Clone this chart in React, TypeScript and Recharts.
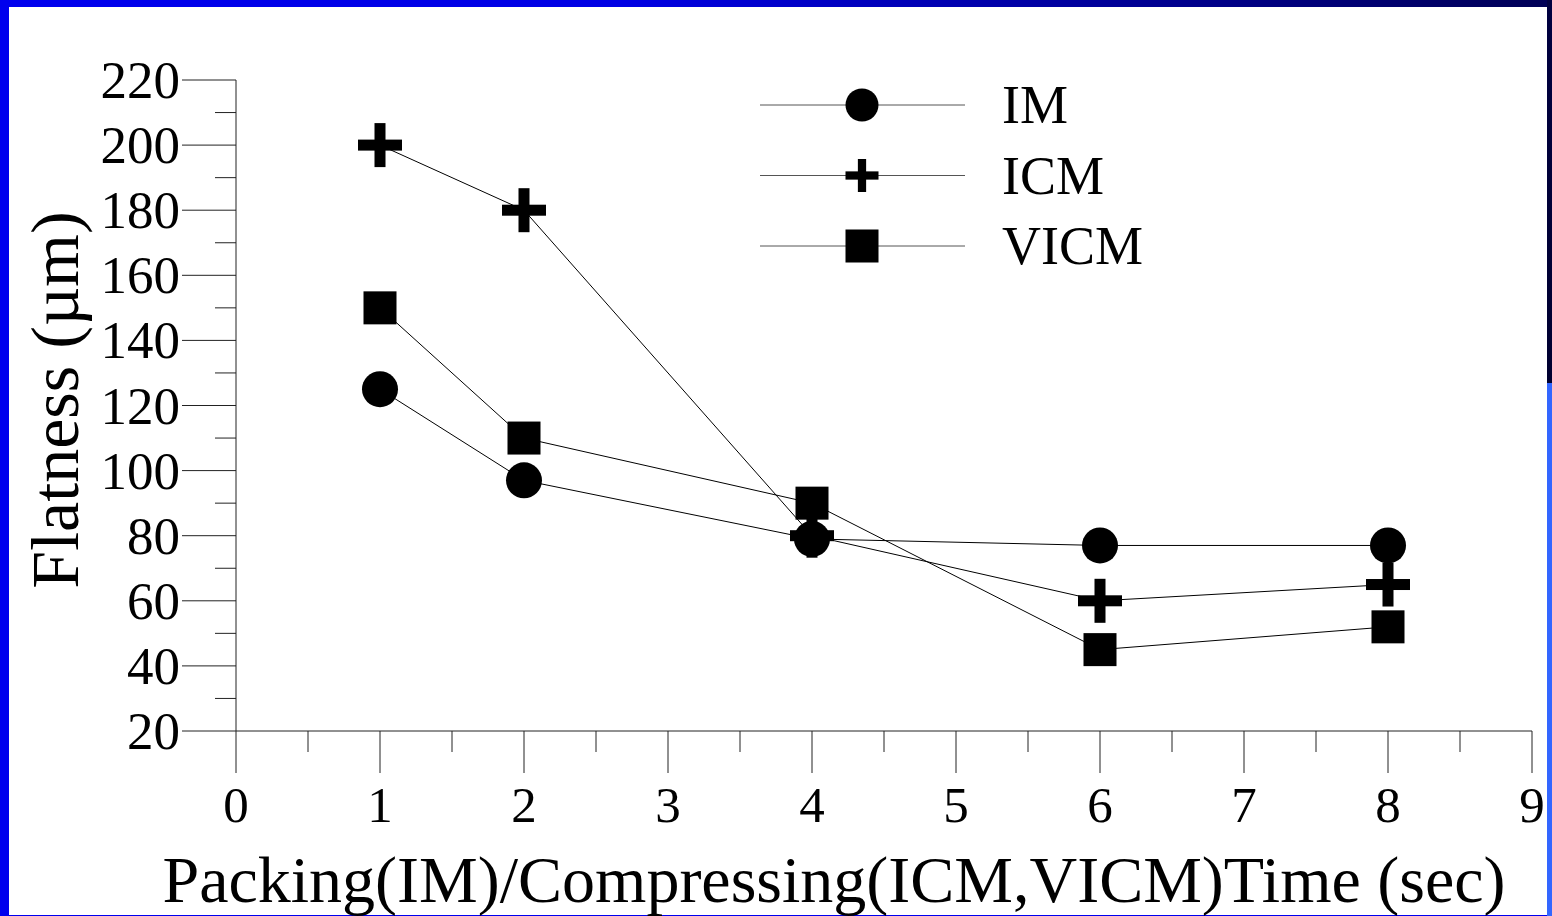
import { Legend, Line, LineChart, XAxis, YAxis } from 'recharts';

const times = [1, 2, 4, 6, 8];
const imValues = [125, 97, 79, 77, 77];
const icmValues = [200, 180, 80, 60, 65];
const vicmValues = [150, 110, 90, 45, 52];

const xTicks = [0, 0.5, 1, 1.5, 2, 2.5, 3, 3.5, 4, 4.5, 5, 5.5, 6, 6.5, 7, 7.5, 8, 8.5, 9];
const yTicks = [20, 30, 40, 50, 60, 70, 80, 90, 100, 110, 120, 130, 140, 150, 160, 170, 180, 190, 200, 210, 220];

const xTitle = 'Packing(IM)/Compressing(ICM,VICM)Time (sec)';
const yTitle = 'Flatness (µm)';

type Shape = 'circle' | 'plus' | 'square';

const series: { key: string; name: string; shape: Shape }[] = [
  { key: 'im', name: 'IM', shape: 'circle' },
  { key: 'icm', name: 'ICM', shape: 'plus' },
  { key: 'vicm', name: 'VICM', shape: 'square' },
];

const data = times.map((t, i) => ({
  time: t,
  im: imValues[i],
  icm: icmValues[i],
  vicm: vicmValues[i],
}));

const FONT = "'Liberation Serif', 'Times New Roman', serif";
const INK = '#000';

function Marker({ cx, cy, shape, size }: { cx: number; cy: number; shape: Shape; size: number }) {
  if (shape === 'circle') {
    return <circle cx={cx} cy={cy} r={size / 2} fill={INK} />;
  }
  if (shape === 'square') {
    return <rect x={cx - size / 2} y={cy - size / 2} width={size} height={size} fill={INK} />;
  }
  const t = size / 4;
  return (
    <g fill={INK}>
      <rect x={cx - size / 2} y={cy - t / 2} width={size} height={t} />
      <rect x={cx - t / 2} y={cy - size / 2} width={t} height={size} />
    </g>
  );
}

const plotSizes: Record<Shape, number> = { circle: 36, plus: 44, square: 33 };
const legendSizes: Record<Shape, number> = { circle: 33, plus: 33, square: 33 };

function makeDot(shape: Shape) {
  return (props: any) => {
    const { cx, cy, index } = props;
    if (cx == null || cy == null) return <g key={`d-${shape}-${index}`} />;
    return (
      <g key={`d-${shape}-${index}`}>
        <Marker cx={cx} cy={cy} shape={shape} size={plotSizes[shape]} />
      </g>
    );
  };
}

function XTick(props: any) {
  const { x, y, payload } = props;
  const v = Number(payload.value);
  const major = Number.isInteger(v);
  return (
    <g>
      <line x1={x} x2={x} y1={y} y2={y + (major ? 42 : 21)} stroke="#222" strokeWidth={1} />
      {major && (
        <text x={x} y={y + 91} textAnchor="middle" fontFamily={FONT} fontSize={51} fill={INK}>
          {v}
        </text>
      )}
    </g>
  );
}

function YTick(props: any) {
  const { x, y, payload } = props;
  const v = Number(payload.value);
  const major = v % 20 === 0;
  return (
    <g>
      <line x1={x - (major ? 54 : 21)} x2={x} y1={y} y2={y} stroke="#222" strokeWidth={1} />
      {major && (
        <text x={x - 56} y={y + 18} textAnchor="end" fontFamily={FONT} fontSize={53} fill={INK}>
          {v}
        </text>
      )}
    </g>
  );
}

function XTitle(props: any) {
  const { viewBox } = props;
  return (
    <text
      x={viewBox.x + 598}
      y={viewBox.y + 171}
      textAnchor="middle"
      fontFamily={FONT}
      fontSize={66}
      fill={INK}
    >
      {xTitle}
    </text>
  );
}

function YTitle(props: any) {
  const { viewBox } = props;
  const cx = viewBox.x + viewBox.width - 158;
  const cy = viewBox.y + 320;
  return (
    <text
      x={cx}
      y={cy}
      transform={`rotate(-90 ${cx} ${cy})`}
      textAnchor="middle"
      fontFamily={FONT}
      fontSize={68}
      fill={INK}
    >
      {yTitle}
    </text>
  );
}

function SeriesLegend() {
  return (
    <svg width={420} height={220} style={{ display: 'block' }}>
      {series.map((meta, i) => {
        const y = 35 + i * 70.5;
        return (
          <g key={meta.key}>
            <line x1={20} x2={225} y1={y} y2={y} stroke="#555" strokeWidth={1} />
            <Marker cx={122} cy={y} shape={meta.shape} size={legendSizes[meta.shape]} />
            <text x={262} y={y + 18} fontFamily={FONT} fontSize={54} fill={INK}>
              {meta.name}
            </text>
          </g>
        );
      })}
    </svg>
  );
}

export default function App() {
  return (
    <div
      style={{
        position: 'absolute',
        left: 0,
        top: 0,
        width: 1552,
        height: 916,
        overflow: 'hidden',
        background: '#0000ee',
      }}
    >
      {/* top bar */}
      <div
        style={{
          position: 'absolute',
          left: 0,
          top: 0,
          width: 1552,
          height: 7,
          background: 'linear-gradient(90deg, #0000ee 0%, #0000e4 40%, #0000b8 58%, #000090 75%, #000055 100%)',
        }}
      />
      {/* right edge */}
      <div
        style={{
          position: 'absolute',
          left: 1547,
          top: 0,
          width: 5,
          height: 916,
          background: 'linear-gradient(180deg, #000040 0%, #000030 41.8%, #3366ff 41.8%, #3366ff 100%)',
        }}
      />
      <div
        style={{
          position: 'absolute',
          left: 9,
          top: 7,
          width: 1538,
          height: 908,
          background: '#fff',
        }}
      />
      <div style={{ position: 'absolute', left: 0, top: 0 }}>
        <LineChart width={1552} height={916} data={data} margin={{ top: 80, right: 20, bottom: 0, left: 0 }}>
          <XAxis
            dataKey="time"
            type="number"
            domain={[0, 9]}
            ticks={xTicks}
            interval={0}
            tickSize={0}
            tickMargin={0}
            tickLine={false}
            tick={<XTick />}
            axisLine={{ stroke: '#222', strokeWidth: 1 }}
            height={185}
            label={<XTitle />}
          />
          <YAxis
            type="number"
            domain={[20, 220]}
            ticks={yTicks}
            interval={0}
            tickSize={0}
            tickMargin={0}
            tickLine={false}
            tick={<YTick />}
            axisLine={{ stroke: '#222', strokeWidth: 1 }}
            width={236}
            label={<YTitle />}
          />
          <Legend
            layout="vertical"
            align="center"
            verticalAlign="middle"
            content={<SeriesLegend />}
            wrapperStyle={{ position: 'absolute', left: 740, top: 70, width: 420, height: 220 }}
          />
          {series.map((s) => (
            <Line
              key={s.key}
              dataKey={s.key}
              name={s.name}
              type="linear"
              stroke={INK}
              strokeWidth={1}
              dot={makeDot(s.shape)}
              activeDot={false}
              isAnimationActive={false}
            />
          ))}
        </LineChart>
      </div>
    </div>
  );
}
